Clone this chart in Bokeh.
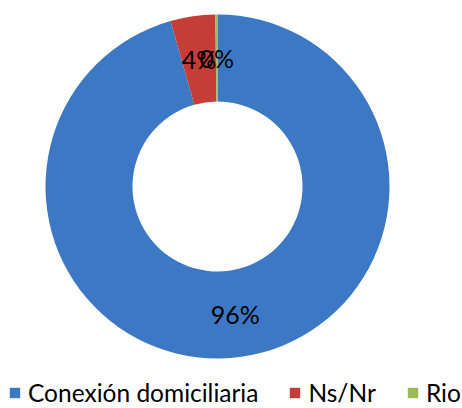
import math
import numpy as np
from bokeh.plotting import figure
from bokeh.models import Range1d, ColumnDataSource, Legend, LegendItem
from bokeh.core.properties import value
from bokeh.embed import file_html
from bokeh.resources import INLINE

categories = ["Conexión domiciliaria", "Ns/Nr", "Rio"]
shares = [95.6, 4.2, 0.2]
pct_labels = ["96%", "4%", "0%"]
colors = ["#3D78C5", "#C63C37", "#9BBB59"]

FONT = "Lato"

p = figure(width=462, height=408, x_range=Range1d(-217, 245), y_range=Range1d(-222, 186),
           output_backend="svg", toolbar_location=None, min_border=0)
p.axis.visible = False
p.grid.visible = False
p.outline_line_color = None

inner_r, outer_r = 85, 172
frac = np.array(shares) / sum(shares)
cum = np.concatenate([[0], np.cumsum(frac)])
start = math.pi / 2 - cum[:-1] * 2 * math.pi
end = math.pi / 2 - cum[1:] * 2 * math.pi
mid = (start + end) / 2
lr = (inner_r + outer_r) / 2

src = ColumnDataSource(dict(cat=categories, start=start, end=end, color=colors,
                            lx=lr * np.cos(mid), ly=lr * np.sin(mid), lab=pct_labels))

wedges = p.annular_wedge(x=0, y=0, inner_radius=inner_r, outer_radius=outer_r,
                         start_angle="start", end_angle="end", direction="clock",
                         fill_color="color", line_color=None, source=src)

p.text(x="lx", y="ly", text="lab", source=src, text_align="center", text_baseline="middle",
       text_font=value(FONT), text_font_size="25px", text_color="black")

items = [LegendItem(label=c, renderers=[wedges], index=i) for i, c in enumerate(categories)]
legend = Legend(items=items, orientation="horizontal", location=(8, 1),
                label_text_font=FONT, label_text_font_size="24.5px", label_text_color="black",
                glyph_width=13, glyph_height=13, label_standoff=7, spacing=30,
                padding=0, margin=0, border_line_color=None, background_fill_alpha=0)
p.add_layout(legend)

open("out.html", "w").write(file_html(p, INLINE))
